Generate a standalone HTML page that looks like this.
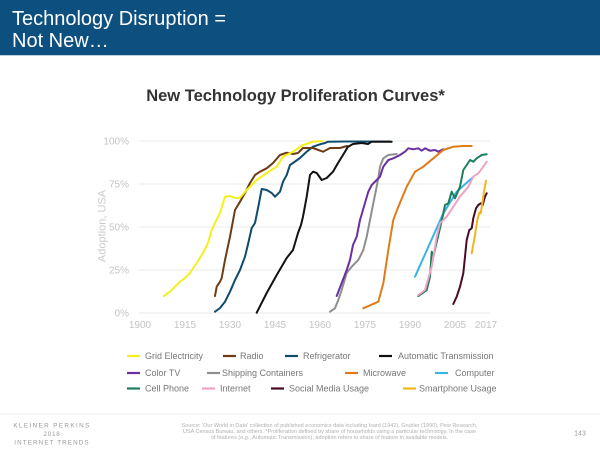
<!DOCTYPE html>
<html><head><meta charset="utf-8"><style>
html,body{margin:0;padding:0;background:#fff;}
body{width:600px;height:450px;position:relative;overflow:hidden;font-family:"Liberation Sans",Arial,sans-serif;}
.hdr{position:absolute;left:0;top:0;width:600px;height:55px;background:#0d5080;}
.hdr div{position:absolute;left:12px;color:#fff;font-size:20px;line-height:22px;}
.hl{position:absolute;left:0;top:55px;width:600px;height:1px;background:#b8cfdd;}
svg{position:absolute;left:0;top:0;}
</style></head><body>
<div class="hdr"><div style="top:8px">Technology Disruption =<br>Not New…</div></div>
<div class="hl"></div>
<svg width="600" height="450" viewBox="0 0 600 450" font-family="Liberation Sans, Arial, sans-serif">
<text x="295.5" y="101" text-anchor="middle" font-size="16.5" font-weight="bold" fill="#333">New Technology Proliferation Curves*</text>
<g stroke="#e8e8e8" stroke-width="1">
<line x1="139" y1="141" x2="490" y2="141"/>
<line x1="139" y1="184" x2="490" y2="184"/>
<line x1="139" y1="227" x2="490" y2="227"/>
<line x1="139" y1="270" x2="490" y2="270"/>
<line x1="139" y1="313" x2="490" y2="313"/>
</g>
<g font-size="10" fill="#c4c4c4" text-anchor="end">
<text x="129" y="144.5">100%</text>
<text x="129" y="187.5">75%</text>
<text x="129" y="230.5">50%</text>
<text x="129" y="273.5">25%</text>
<text x="129" y="316.5">0%</text>
</g>
<g font-size="10" fill="#c4c4c4" text-anchor="middle">
<text x="140" y="328">1900</text>
<text x="185" y="328">1915</text>
<text x="230" y="328">1930</text>
<text x="275" y="328">1945</text>
<text x="320" y="328">1960</text>
<text x="365" y="328">1975</text>
<text x="410" y="328">1990</text>
<text x="455" y="328">2005</text>
<text x="486" y="328">2017</text>
</g>
<text transform="translate(105.5,226) rotate(-90)" text-anchor="middle" font-size="11" fill="#cacaca">Adoption, USA</text>
<g fill="none" stroke-width="2" stroke-linejoin="round" stroke-linecap="round">
<polyline stroke="#0f4c6e" points="215,311.7 220,308 225,301.7 230,291.7 235,280 240,270 245,256.7 248.3,243 251.7,228 255,223 258.3,206.7 261.7,189 266.7,190 271.7,193 275,196.7 280,191.7 283,181.7 286.7,175 290,165 293,163 300,158 306.7,151.7 313,146.7 320,144.3 325,143 328,141.7 345,141.5 390,141.5"/>
<polyline stroke="#6e3b12" points="215,296 216.7,286.7 220,281.7 221.7,278 225,260 230,236.7 235,210 240,201.7 245,193 250,183 255,175 260,171.7 266.7,168.3 273,163 280,155 286.7,152.7 293,154 298,153 303,148 313,148 323,151.7 330,148 340,148 347,146"/>
<polyline stroke="#f4f01e" points="164,296 170,291.7 180,281.7 185,278 190,273 196.7,263 203,253 208,243 211.7,230 215,223 220,213 225,196.7 230,196 235,198 240,197.7 246.7,190 256.7,180 266.7,173 276.7,166.7 283,156.7 293,151.7 303,145 313,141.7 322,141"/>
<polyline stroke="#111" points="256.7,312.7 266.7,293 276.7,275 286.7,258 293,250 298,233 301,225 303,216.7 306.7,196.7 310,175 313,171.7 316.7,173 321.7,180 326.7,178 333,171.7 338,163 343,155 348,146.7 353,144 361.7,143 368,144 371.7,141.7 391.7,141.7"/>
<polyline stroke="#8f8f8f" points="330,311.7 335,308.3 338.3,300 341.7,290 346.7,273 351.7,266.7 358.3,260 363.3,250 366.7,236.7 370,220 373.3,203.3 376,190 378.3,178.3 380,166.7 383.3,158.3 388.3,155 396.7,154"/>
<polyline stroke="#6b2f9e" points="336.7,296 341.7,283 346.7,270 350,260 353,245 356.7,236.7 360,220 365,203 368.3,191.7 371.7,185 376.7,180 380,176.7 383.3,166.7 388.3,160 393.3,158.3 400,155 405,151.7 408.3,148.3 413.3,149.3 418.3,148.3 421.7,150.7 425,148.3 430,150.7 435,150 438.3,151.7 443.3,149.3"/>
<polyline stroke="#e07b1a" points="363.3,308.3 378.3,301.7 383.3,283.3 388.3,250 393.3,220 398.3,206.7 406.7,186.7 415,171.7 423.3,166.7 433.3,158.3 443.3,150 453.3,146.7 463.3,146 471.7,146"/>
<polyline stroke="#3ab4e6" points="415,276.7 443.3,213.3 456.7,191.7 471.7,178.3"/>
<polyline stroke="#1f7f5c" points="418.3,296 426.7,290 430,276.7 431.7,251.7 433.3,256.7 436,245 440,228 443,215 445,205 448.3,203.3 451.7,191.7 455,198.3 460,186.7 463.3,170 466.7,165 470,160 473.3,161.7 476.7,158.3 481.7,155 486.7,154.3"/>
<polyline stroke="#eea2c4" points="418.3,295 425,290 431.7,266.7 436.7,236.7 440,223.3 446.7,216.7 453.3,206.7 460,196.7 468.3,186.7 473.3,176.7 478.3,173.3 483.3,166.7 486.7,161.7"/>
<polyline stroke="#4b0a26" points="453.3,304 456.7,296.7 460,286.7 463.3,273.3 465,256.7 466.7,240 469.3,230 471.7,228.3 473.3,218.3 476,208.3 478.3,205 480.7,203.3 482.7,205 485,196.7 486.7,193.3"/>
<polyline stroke="#f2b61b" points="471.7,253.3 475,235 477.3,220 479.3,212.7 480.7,213.3 482.3,203.3 484.3,190 486,180.7"/>
</g>
<g stroke-width="2.2">
<line x1="127" y1="356" x2="140" y2="356" stroke="#f4f01e"/>
<line x1="223" y1="356" x2="236" y2="356" stroke="#6e3b12"/>
<line x1="285" y1="356" x2="298" y2="356" stroke="#0f4c6e"/>
<line x1="379" y1="356" x2="392" y2="356" stroke="#111"/>
<line x1="127" y1="373" x2="140" y2="373" stroke="#6b2f9e"/>
<line x1="207" y1="373" x2="220" y2="373" stroke="#8f8f8f"/>
<line x1="345" y1="373" x2="358" y2="373" stroke="#e07b1a"/>
<line x1="435" y1="373" x2="448" y2="373" stroke="#3ab4e6"/>
<line x1="127" y1="388.5" x2="140" y2="388.5" stroke="#1f7f5c"/>
<line x1="202" y1="388.5" x2="215" y2="388.5" stroke="#eea2c4"/>
<line x1="271" y1="388.5" x2="284" y2="388.5" stroke="#4b0a26"/>
<line x1="403" y1="388.5" x2="416" y2="388.5" stroke="#f2b61b"/>
</g>
<g font-size="9" fill="#777">
<text x="145" y="359.2">Grid Electricity</text>
<text x="240" y="359.2">Radio</text>
<text x="303" y="359.2">Refrigerator</text>
<text x="398" y="359.2">Automatic Transmission</text>
<text x="145" y="376.2">Color TV</text>
<text x="222" y="376.2">Shipping Containers</text>
<text x="363" y="376.2">Microwave</text>
<text x="455" y="376.2">Computer</text>
<text x="145" y="391.7">Cell Phone</text>
<text x="220" y="391.7">Internet</text>
<text x="289" y="391.7">Social Media Usage</text>
<text x="419" y="391.7">Smartphone Usage</text>
</g>
<line x1="0" y1="414" x2="600" y2="414" stroke="#eeeeee" stroke-width="1"/>
<g font-size="6.3" fill="#9a9a9a" text-anchor="middle">
<text x="52" y="427.5" letter-spacing="1.4">KLEINER PERKINS</text>
<text x="52" y="436" letter-spacing="0.8">2018</text>
<text x="52" y="444.3" letter-spacing="1.1">INTERNET TRENDS</text>
</g>
<g font-size="5.5" fill="#b0b0b0" text-anchor="middle">
<text x="329.5" y="427">Source: 'Our World in Data' collection of published economics data including Isard (1942), Grubler (1990), Pew Research,</text>
<text x="329.5" y="433">USA Census Bureau, and others. *Proliferation defined by share of households using a particular technology. In the case</text>
<text x="329.5" y="439">of features (e.g., Automatic Transmission), adoption refers to share of feature in available models.</text>
</g>
<text x="580" y="435.5" font-size="7" fill="#9a9a9a" text-anchor="middle">143</text>
</svg>
</body></html>
